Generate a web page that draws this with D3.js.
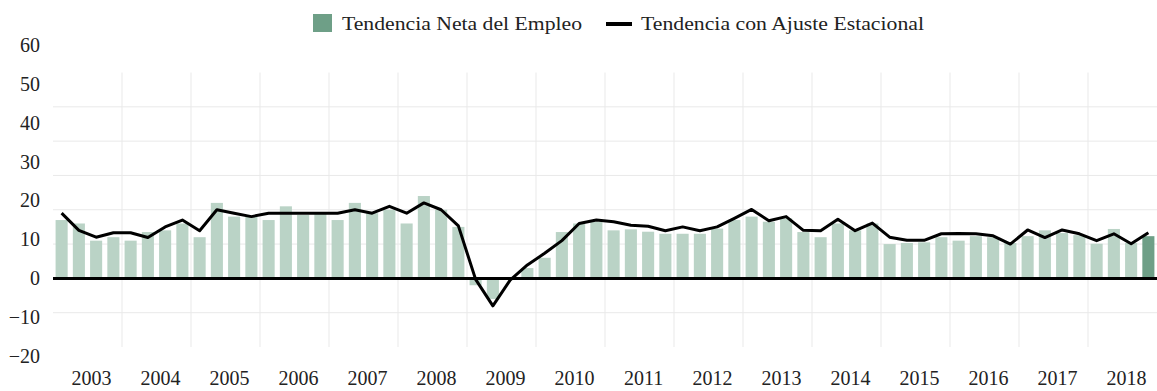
<!DOCTYPE html>
<html>
<head>
<meta charset="utf-8">
<script src="https://cdn.jsdelivr.net/npm/d3@7"></script>
<style>
  html, body { margin: 0; padding: 0; background: #fff; }
  svg { display: block; }
</style>
</head>
<body>
<svg id="chart" width="1157" height="391"></svg>
<script>
// ---- data ----
const years = ["2003","2004","2005","2006","2007","2008","2009","2010","2011","2012","2013","2014","2015","2016","2017","2018"];
const quarters = ["Q1","Q2","Q3","Q4"];
const netTrend = [
  17, 16, 11, 12,
  11, 13.5, 14, 16,
  12, 22, 18, 18,
  17, 21, 18.5, 19,
  17, 22, 19, 20,
  16, 24, 20, 15,
  -2, -6, 0, 3,
  6, 13.5, 16, 16.5,
  14, 14.3, 13.6, 13,
  13, 13, 14.5, 17,
  18, 16.5, 17.5, 13.5,
  12, 16, 14, 16,
  10, 10.3, 10.5, 12,
  11, 12.3, 12, 10.3,
  12.3, 14, 13.2, 12.6,
  10.1, 14.4, 10.3, 12.3
];
const seasonalTrend = [
  19, 14, 12, 13.3,
  13.3, 11.9, 15, 17,
  13.9, 20, 19, 18,
  19, 19, 19, 19,
  19, 20, 19, 21,
  19, 22, 20, 15.3,
  -0.3, -8, -0.5, 3.9,
  7.3, 11, 16, 17,
  16.5, 15.5, 15.2, 13.9,
  15, 13.9, 15, 17.5,
  20.1, 16.8, 18, 14,
  13.9, 17.2, 13.9, 16.1,
  12, 11.1, 11.1, 13,
  13.1, 13, 12.4, 10,
  14.1, 11.9, 14.1, 13,
  11, 13, 10.1, 13.3
];
const yTicks = [-20, -10, 0, 10, 20, 30, 40, 50, 60];
const legendLabels = ["Tendencia Neta del Empleo", "Tendencia con Ajuste Estacional"];

// ---- build ----
const FONT = "Liberation Serif";
const periods = [];
years.forEach(y => quarters.forEach(q => periods.push(y + " " + q)));
const data = periods.map((p, i) => ({ p, net: netTrend[i], sa: seasonalTrend[i], last: i === periods.length - 1 }));

const svg = d3.select("#chart");
const left = 53, right = 1157;

const x = d3.scaleBand().domain(periods).range([left, right]).paddingInner(0.3).paddingOuter(0.15);
const xYear = d3.scaleBand().domain(years).range([left, right]);
const y = d3.scaleLinear().domain([-20, 60]).range([347, 72.5]);
const yLabel = d3.scaleLinear().domain([-20, 60]).range([356, 45]);

// gridlines
const grid = svg.append("g");
grid.selectAll("line.h").data(yTicks.filter(t => t > -20 && t < 60)).join("line")
  .attr("x1", left).attr("x2", right)
  .attr("y1", d => y(d)).attr("y2", d => y(d))
  .attr("stroke", "#e9e9e9").attr("stroke-width", 1);
grid.selectAll("line.v").data(years.slice(1)).join("line")
  .attr("x1", d => xYear(d)).attr("x2", d => xYear(d))
  .attr("y1", y(60)).attr("y2", y(-20))
  .attr("stroke", "#e9e9e9").attr("stroke-width", 1);

// bars
svg.append("g").selectAll("rect").data(data).join("rect")
  .attr("x", d => x(d.p))
  .attr("width", x.bandwidth())
  .attr("y", d => y(Math.max(0, d.net)))
  .attr("height", d => Math.abs(y(d.net) - y(0)))
  .attr("fill", d => d.last ? "#6e9f87" : "#bad3c6");

// zero line
svg.append("line")
  .attr("x1", left).attr("x2", right)
  .attr("y1", y(0)).attr("y2", y(0))
  .attr("stroke", "#000").attr("stroke-width", 3);

// seasonal line
const line = d3.line().x(d => x(d.p) + x.bandwidth() / 2).y(d => y(d.sa));
svg.append("path").datum(data)
  .attr("d", line)
  .attr("fill", "none").attr("stroke", "#000").attr("stroke-width", 3)
  .attr("stroke-linejoin", "round");

// y labels
const yAxis = svg.append("g").attr("transform", "translate(40,0)")
  .call(d3.axisLeft(yLabel).tickValues(yTicks).tickSize(0).tickPadding(0));
yAxis.select(".domain").remove();
yAxis.attr("font-family", null).attr("font-size", null);
yAxis.selectAll("text").attr("font-family", FONT).attr("font-size", 20).attr("fill", "#222");

// x labels
const xAxis = svg.append("g").attr("transform", "translate(4,371)")
  .call(d3.axisBottom(xYear).tickSize(0).tickPadding(0));
xAxis.select(".domain").remove();
xAxis.attr("font-family", null).attr("font-size", null);
xAxis.selectAll("text").attr("font-family", FONT).attr("font-size", 20).attr("fill", "#222");

// legend
const lg = svg.append("g");
lg.append("rect").attr("x", 313).attr("y", 14).attr("width", 19).attr("height", 18).attr("fill", "#6e9f87");
lg.append("text").attr("x", 342).attr("y", 30)
  .attr("font-family", FONT).attr("font-size", 19).attr("fill", "#222")
  .attr("textLength", 240).attr("lengthAdjust", "spacingAndGlyphs")
  .text(legendLabels[0]);
lg.append("line").attr("x1", 606).attr("x2", 632).attr("y1", 24).attr("y2", 24)
  .attr("stroke", "#000").attr("stroke-width", 4);
lg.append("text").attr("x", 641).attr("y", 30)
  .attr("font-family", FONT).attr("font-size", 19).attr("fill", "#222")
  .attr("textLength", 283).attr("lengthAdjust", "spacingAndGlyphs")
  .text(legendLabels[1]);
</script>
</body>
</html>
